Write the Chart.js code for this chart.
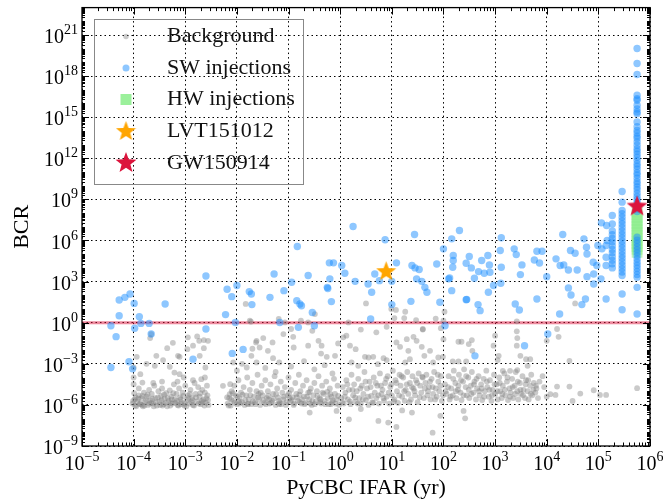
<!DOCTYPE html>
<html>
<head>
<meta charset="utf-8">
<script src="https://cdn.jsdelivr.net/npm/chart.js@4.4.1/dist/chart.umd.min.js"></script>
<style>
  body { margin: 0; background: #fff; }
  canvas { display: block; }
</style>
</head>
<body>
<canvas id="myChart" width="663" height="500"></canvas>
<script>
// values, stored as [log10 IFAR (yr), log10 BCR]
const seriesNames = ['Background', 'SW injections', 'HW injections', 'LVT151012', 'GW150914'];
const xTickExps = [-5, -4, -3, -2, -1, 0, 1, 2, 3, 4, 5, 6];
const yTickExps = [-9, -6, -3, 0, 3, 6, 9, 12, 15, 18, 21];

const bgLog = [
  [-3.94,-2.49],[-3.68,-1.12],[-3.66,-0.83],[-3.87,-3.76],[-3.83,-4.37],[-3.56,-2.42],[-3.59,-3.15],[-3.43,-2.73],
  [-3.35,-1.86],[-3.24,-1.47],[-3.30,-3.22],[-3.14,-2.42],[-3.11,-2.49],[-3.21,-3.64],[-3.11,-3.76],[-3.03,-4.0],
  [-2.95,-1.07],[-2.96,-1.93],[-2.85,-1.68],[-2.77,-1.0],[-2.73,-1.32],[-2.64,-1.27],[-2.56,-1.32],[-2.64,-1.86],
  [-2.72,-2.42],[-2.61,-3.27],[-2.62,-4.0],[-2.69,-4.12],[-4.0,-3.27],[-4.0,-4.0],[-4.0,-4.49],[-3.75,-3.0],
  [-4.02,-5.9],[-3.98,-5.6],[-3.97,-6.05],[-3.93,-5.75],[-3.9,-5.3],[-3.88,-5.95],[-3.85,-5.5],[-3.82,-6.1],
  [-3.8,-5.1],[-3.78,-5.8],[-3.75,-5.4],[-3.72,-6.0],[-3.7,-4.9],[-3.68,-5.65],[-3.65,-5.2],[-3.62,-5.9],
  [-3.6,-4.6],[-3.58,-5.5],[-3.55,-6.05],[-3.52,-5.0],[-3.5,-5.75],[-3.47,-5.35],[-3.45,-4.8],[-3.42,-5.95],
  [-3.4,-5.55],[-3.37,-5.15],[-3.35,-6.1],[-3.32,-5.7],[-3.3,-4.95],[-3.27,-5.4],[-3.25,-5.9],[-3.22,-4.5],
  [-3.2,-5.6],[-3.17,-5.2],[-3.15,-6.0],[-3.12,-4.8],[-3.1,-5.45],[-3.07,-5.8],[-3.05,-5.1],[-3.02,-6.05],
  [-3.0,-4.6],[-2.97,-5.65],[-2.95,-5.3],[-2.92,-5.9],[-2.9,-4.9],[-2.87,-5.5],[-2.85,-6.0],[-2.82,-4.4],
  [-2.8,-5.2],[-2.77,-5.75],[-2.75,-4.7],[-2.72,-5.4],[-2.7,-5.95],[-2.67,-4.9],[-2.65,-5.6],[-2.62,-5.1],
  [-2.6,-5.85],[-2.57,-5.3],[-2.55,-6.0],[-2.58,-4.6],[-3.62,-4.4],[-3.9,-4.8],[-3.45,-4.3],[-3.15,-4.3],
  [-2.85,-4.2],[-3.96,-5.45],[-3.84,-6.0],[-3.66,-5.85],[-3.44,-6.05],[-3.28,-5.85],[-3.08,-5.95],[-2.88,-5.8],
  [-2.68,-5.7],[-2.27,-4.61],
  [-4.01,-5.7],[-3.99,-5.15],[-3.95,-6.1],[-3.91,-5.55],[-3.87,-5.9],[-3.83,-5.35],[-3.79,-6.05],[-3.76,-5.65],
  [-3.73,-5.25],[-3.69,-5.9],[-3.64,-5.55],[-3.61,-6.1],[-3.57,-5.8],[-3.53,-5.45],[-3.49,-6.0],[-3.46,-5.65],
  [-3.41,-5.25],[-3.38,-5.85],[-3.34,-5.5],[-3.29,-6.05],[-3.26,-5.6],[-3.23,-5.15],[-3.19,-5.85],[-3.16,-5.7],
  [-3.13,-6.05],[-3.09,-5.6],[-3.04,-5.35],[-3.01,-5.9],[-2.98,-6.1],[-2.94,-5.5],[-2.91,-5.2],[-2.86,-5.65],
  [-2.83,-6.05],[-2.79,-5.45],[-2.74,-5.9],[-2.71,-5.15],[-2.66,-5.8],[-2.63,-6.05],[-2.59,-5.5],[-2.56,-5.65],
  [-1.83,1.37],[-1.75,0.15],[-1.62,-1.32],[-1.81,-3.27],[-2.14,-5.22],[-2.13,-4.49],[-2.07,-2.9],[-0.49,0.63],
  [-0.76,0.15],[-1.07,0.02],[-0.54,-0.59],[0.12,-0.95],[0.06,-1.07],[-0.91,-1.03],[-1.49,-1.12],[-1.63,-1.44],
  [-1.31,-1.44],[-1.10,-0.83],[-0.62,-1.68],[-0.90,-1.81],[-0.42,-1.32],[-0.36,-1.68],[-0.37,-2.25],[-0.26,-2.49],
  [-0.10,-2.42],[-0.04,-1.51],[-1.56,-1.81],[-1.40,-2.05],[-1.30,-2.59],[-1.18,-2.9],[-1.72,-2.42],[-1.62,-2.9],
  [-2.0,-3.5],[-1.9,-3.0],[-1.45,-3.3],[-1.25,-3.6],[-0.95,-3.2],[-0.7,-2.8],[-0.5,-3.4],[-0.3,-3.1],
  [-0.15,-3.7],[-1.7,-1.9],[-1.19,0.27],[-0.95,-0.46],[-0.62,0.02],[-1.73,0.07],
  [-2.18,-5.9],[-2.15,-5.5],[-2.12,-6.05],[-2.1,-5.0],[-2.07,-5.7],[-2.05,-4.6],[-2.02,-5.3],[-2.0,-5.95],
  [-1.97,-4.2],[-1.95,-5.5],[-1.92,-5.1],[-1.9,-5.8],[-1.87,-4.7],[-1.85,-6.0],[-1.82,-5.3],[-1.8,-4.0],
  [-1.77,-5.6],[-1.75,-4.9],[-1.72,-5.95],[-1.7,-4.4],[-1.67,-5.4],[-1.65,-5.8],[-1.62,-5.0],[-1.6,-3.8],
  [-1.57,-5.6],[-1.55,-6.0],[-1.52,-4.6],[-1.5,-5.3],[-1.47,-5.85],[-1.45,-4.2],[-1.42,-5.5],[-1.4,-5.0],
  [-1.37,-5.9],[-1.35,-4.5],[-1.32,-5.7],[-1.3,-5.2],[-1.27,-3.9],[-1.25,-6.0],[-1.22,-4.8],[-1.2,-5.45],
  [-1.17,-5.85],[-1.15,-4.3],[-1.12,-5.1],[-1.1,-5.6],[-1.07,-4.7],[-1.05,-6.0],[-1.02,-5.3],[-1.0,-4.0],
  [-0.97,-5.75],[-0.95,-4.9],[-0.92,-5.45],[-0.9,-6.0],[-0.87,-4.4],[-0.85,-5.2],[-0.82,-5.7],[-0.8,-3.8],
  [-0.77,-5.0],[-0.75,-5.9],[-0.72,-4.6],[-0.7,-5.4],[-0.67,-5.85],[-0.65,-4.2],[-0.62,-5.1],[-0.6,-5.6],
  [-0.57,-4.8],[-0.55,-6.0],[-0.52,-5.3],[-0.5,-4.4],[-0.47,-5.75],[-0.45,-5.0],[-0.42,-3.9],[-0.4,-5.5],
  [-0.37,-5.9],[-0.35,-4.6],[-0.32,-5.2],[-0.3,-5.7],[-0.27,-4.3],[-0.25,-5.05],[-0.22,-5.95],[-0.2,-4.8],
  [-0.17,-5.4],[-0.15,-5.8],[-0.12,-4.1],[-0.1,-5.2],[-0.07,-5.6],[-0.05,-4.6],[-0.02,-6.0],[-0.59,-6.56],
  [-0.07,-6.44],[-1.96,-5.75],[-1.78,-5.9],[-1.58,-5.2],[-1.38,-5.6],[-1.18,-5.95],[-0.98,-5.5],[-0.78,-5.8],
  [-0.58,-5.9],[-0.38,-5.6],[-0.18,-5.95],
  [-2.19,-5.45],[-2.16,-6.05],[-2.11,-5.6],[-2.08,-5.15],[-2.04,-5.85],[-1.99,-5.4],[-1.94,-5.9],[-1.89,-5.25],
  [-1.84,-5.65],[-1.79,-5.95],[-1.74,-5.3],[-1.69,-5.75],[-1.64,-5.95],[-1.59,-5.45],[-1.54,-5.1],[-1.49,-5.65],
  [-1.44,-5.95],[-1.39,-5.35],[-1.34,-5.85],[-1.29,-5.55],[-1.24,-5.2],[-1.19,-5.7],[-1.14,-5.95],[-1.09,-5.4],
  [-1.04,-5.8],[-0.99,-5.15],[-0.94,-5.65],[-0.89,-5.9],[-0.84,-5.45],[-0.79,-5.25],[-0.74,-5.6],[-0.69,-5.95],
  [-0.64,-5.4],[-0.59,-5.05],[-0.54,-5.7],[-0.49,-5.95],[-0.44,-5.35],[-0.39,-5.8],[-0.34,-5.1],[-0.29,-5.95],
  [-0.24,-5.5],[-0.19,-5.2],[-0.14,-5.65],[-0.09,-5.9],[-0.04,-5.35],
  [0.50,1.41],[1.08,0.93],[1.26,0.80],[1.24,0.34],[1.05,0.34],[1.47,0.19],[0.19,-1.68],[0.30,-1.93],
  [0.48,-2.49],[0.55,-2.54],[0.64,-2.49],[0.84,-2.59],[0.90,-2.73],[0.73,-3.03],[0.35,-3.15],[0.22,-2.90],
  [1.09,-1.44],[1.16,-1.76],[1.29,-1.2],[1.42,-1.03],[1.48,-1.32],[1.58,-1.76],[1.63,-2.42],[1.74,-2.05],
  [1.32,-2.05],[1.35,-2.66],[1.26,-2.9],[1.80,-2.9],[1.90,-2.54],[0.7,-0.7],[0.9,-0.3],[0.4,-0.5],
  [1.6,-0.5],[1.85,0.3],[1.95,-0.4],[0.99,1.0],[1.6,-0.46],[0.16,0.02],
  [0.17,-7.05],[0.74,-7.17],[0.93,-7.29],[1.09,-7.61],[1.39,-6.56],[1.79,-8.03],[1.94,-6.8],[0.4,-6.3],[1.2,-6.4],
  [0.02,-5.5],[0.05,-4.7],[0.07,-5.9],[0.1,-5.1],[0.12,-4.2],[0.15,-5.6],[0.17,-4.9],[0.2,-5.95],
  [0.22,-3.8],[0.25,-5.3],[0.27,-4.5],[0.3,-5.75],[0.32,-5.0],[0.35,-4.1],[0.37,-5.5],[0.4,-5.9],
  [0.42,-4.6],[0.45,-5.2],[0.47,-3.6],[0.5,-5.65],[0.52,-4.8],[0.55,-6.0],[0.57,-4.3],[0.6,-5.35],
  [0.62,-5.8],[0.65,-4.0],[0.67,-5.1],[0.7,-5.5],[0.72,-4.6],[0.75,-5.9],[0.77,-3.7],[0.8,-5.2],
  [0.82,-4.9],[0.85,-5.7],[0.87,-4.4],[0.9,-5.4],[0.92,-3.9],[0.95,-5.9],[0.97,-4.7],[1.0,-5.3],
  [1.02,-3.5],[1.05,-5.6],[1.07,-4.2],[1.1,-5.0],[1.12,-5.85],[1.15,-3.8],[1.17,-4.6],[1.2,-5.4],
  [1.22,-4.0],[1.25,-5.7],[1.27,-4.9],[1.3,-3.6],[1.32,-5.2],[1.35,-4.4],[1.37,-5.6],[1.4,-3.9],
  [1.42,-4.8],[1.45,-5.3],[1.47,-4.2],[1.5,-5.8],[1.52,-3.7],[1.55,-4.6],[1.57,-5.1],[1.6,-4.0],
  [1.62,-5.5],[1.65,-4.4],[1.67,-3.8],[1.7,-5.0],[1.72,-4.7],[1.75,-5.6],[1.77,-4.1],[1.8,-5.2],
  [1.82,-3.6],[1.85,-4.8],[1.87,-5.4],[1.9,-4.3],[1.92,-5.0],[1.95,-3.9],[1.97,-5.7],
  [0.04,-5.8],[0.09,-5.4],[0.14,-4.5],[0.19,-5.75],[0.24,-4.9],[0.29,-5.45],[0.34,-5.9],[0.39,-4.8],
  [0.44,-5.6],[0.49,-4.3],[0.54,-5.4],[0.59,-4.7],[0.64,-5.85],[0.69,-4.4],[0.74,-5.3],[0.79,-4.6],
  [0.84,-5.5],[0.89,-4.1],[0.94,-5.1],[0.99,-4.5],[1.04,-5.75],[1.09,-4.4],[1.14,-5.3],[1.19,-3.9],
  [1.24,-5.0],[1.29,-4.5],[1.34,-5.8],[1.39,-4.7],[1.44,-5.0],[1.49,-4.4],[1.54,-5.45],[1.59,-3.95],
  [1.64,-4.8],[1.69,-5.3],[1.74,-4.3],[1.79,-4.7],[1.84,-5.6],[1.89,-3.8],[1.94,-4.6],[1.99,-5.3],
  [2.0,-1.20],[1.99,-2.49],[2.29,-1.39],[2.35,-1.39],[2.49,-1.56],[2.55,-1.27],[2.56,-2.05],[2.18,-2.83],
  [2.29,-2.83],[2.44,-2.83],[3.0,-0.95],[2.97,-1.68],[3.07,-2.42],[3.05,-2.73],[3.15,-3.51],[3.29,-3.51],
  [3.42,0.10],[3.42,-0.63],[3.43,-1.12],[3.42,-1.68],[3.49,-2.42],[3.60,-2.66],[3.68,-2.66],[3.63,-3.15],
  [3.43,-3.46],[2.02,0.80],[2.0,0.15],[2.39,-6.44],[2.42,-6.98],
  [2.03,-4.5],[2.06,-5.2],[2.1,-3.9],[2.12,-5.6],[2.15,-4.8],[2.18,-5.3],[2.2,-3.5],[2.23,-4.4],
  [2.25,-5.5],[2.28,-4.9],[2.3,-3.8],[2.33,-5.1],[2.35,-5.65],[2.38,-4.3],[2.4,-3.4],[2.43,-4.7],
  [2.45,-5.3],[2.48,-4.0],[2.5,-5.5],[2.53,-4.6],[2.55,-3.6],[2.58,-5.1],[2.6,-4.3],[2.63,-5.6],
  [2.65,-4.8],[2.68,-3.9],[2.7,-5.3],[2.73,-4.5],[2.75,-5.65],[2.78,-4.1],[2.8,-5.0],[2.83,-3.5],
  [2.85,-4.7],[2.88,-5.4],[2.9,-4.2],[2.93,-5.7],[2.95,-4.9],[2.98,-3.8],[3.0,-5.2],[3.03,-4.5],
  [3.05,-5.6],[3.08,-4.0],[3.1,-5.0],[3.13,-5.5],[3.15,-4.6],[3.18,-3.7],[3.2,-5.3],[3.23,-4.3],
  [3.25,-5.65],[3.28,-4.8],[3.3,-5.1],[3.33,-4.1],[3.35,-5.5],[3.38,-4.6],[3.4,-3.6],[3.43,-5.0],
  [3.45,-5.6],[3.48,-4.4],[3.5,-5.2],[3.53,-3.9],[3.55,-4.9],[3.58,-5.5],[3.6,-4.2],[3.63,-5.0],
  [3.65,-5.6],[3.68,-4.6],[3.7,-3.8],[3.72,-5.3],[3.75,-4.4],[3.78,-5.1],[3.8,-4.8],[3.83,-5.5],[3.86,-4.3],
  [2.04,-5.0],[2.09,-4.7],[2.14,-5.4],[2.19,-4.1],[2.24,-5.0],[2.29,-4.6],[2.34,-4.2],[2.39,-5.3],
  [2.44,-3.9],[2.49,-4.9],[2.54,-5.2],[2.59,-4.5],[2.64,-4.1],[2.69,-5.0],[2.74,-4.8],[2.79,-5.4],
  [2.84,-4.3],[2.89,-4.9],[2.94,-5.3],[2.99,-4.5],[3.04,-5.0],[3.09,-4.4],[3.14,-5.2],[3.19,-4.9],
  [3.24,-4.0],[3.29,-5.4],[3.34,-4.7],[3.39,-5.2],[3.44,-4.3],[3.49,-4.9],[3.54,-5.3],[3.59,-4.5],
  [3.64,-4.2],[3.69,-5.2],[3.74,-4.9],[3.79,-4.6],
  [4.0,-1.32],[4.20,-0.46],[4.23,-1.03],[4.55,1.41],[4.44,-2.78],[4.20,-4.66],[4.44,-4.66],[4.65,-5.17],
  [4.91,-4.93],[5.03,-5.27],[5.15,-5.27],[5.75,-4.78],[4.50,-5.71],[4.07,-5.22],[4.17,-5.27],[3.95,-4.7],
  [4.0,-5.4],[3.92,-3.9]
];

const swLog = [
  [-4.44,-0.22],[-4.44,-3.27],[-4.34,-1.02],[-4.28,1.66],[-4.28,0.51],[-4.17,1.85],[-4.09,-2.85],[-4.07,2.10],
  [-4.02,-3.37],[-3.99,1.41],[-3.98,-0.41],[-3.89,0.44],[-3.86,-0.05],[-3.70,-0.05],[-3.66,-0.83],[-3.39,1.37],
  [-2.85,-2.66],[-2.60,3.41],[-2.60,-0.46],[-2.22,0.59],[-2.19,2.44],[-2.10,1.90],[-2.09,-2.24],[-2.03,0.02],
  [-2.00,2.71],[-1.88,-1.95],[-1.76,2.27],[-1.72,2.10],[-1.71,1.32],[-1.36,1.85],[-1.28,3.56],[-1.17,0.02],
  [-1.09,2.34],[-0.94,2.95],[-0.84,1.61],[-0.83,5.56],[-0.81,-0.34],[-0.78,1.37],[-0.75,1.24],[-0.62,3.44],
  [-0.54,0.75],[-0.50,-0.22],[-0.25,2.58],[-0.24,2.5],[-0.21,4.37],[-0.17,1.54],[-0.13,4.37],[0.03,4.17],
  [-0.20,3.2],[0.09,3.61],[0.25,7.02],[0.29,3.02],[0.54,2.83],[0.61,2.22],[0.59,0.27],[0.67,3.56],
  [0.76,3.07],[0.87,6.05],[1.0,3.02],[1.0,1.32],[1.09,4.37],[1.44,6.44],[1.39,4.17],[1.45,4.0],
  [1.53,3.88],[1.48,3.2],[1.58,3.02],[1.64,2.58],[1.68,2.22],[1.37,1.56],[1.87,4.29],[2.0,5.39],
  [1.93,1.49],[2.03,-0.22],[2.10,3.2],[2.31,6.73],[2.16,6.12],[2.19,4.90],[2.19,4.54],[2.18,4.05],
  [2.12,3.27],[2.16,2.34],[2.44,4.34],[2.50,4.83],[2.54,4.0],[2.74,4.54],[2.68,3.73],[2.79,3.61],
  [2.89,4.22],[2.90,3.68],[2.86,4.90],[2.60,3.24],[2.87,2.22],[3.12,6.2],[3.10,5.27],[3.12,4.05],
  [3.11,2.88],[2.97,2.71],[2.44,1.68],[2.45,1.70],[2.67,1.32],[2.71,0.88],[3.37,5.39],[3.41,4.97],
  [3.52,4.22],[3.49,3.51],[3.39,1.37],[3.47,0.93],[3.76,4.58],[3.81,5.22],[3.91,5.22],[3.86,4.36],
  [3.81,1.73],[4.0,3.36],[4.31,6.44],[4.18,4.66],[4.26,4.17],[4.33,4.22],[4.42,3.85],[4.46,5.27],
  [4.55,5.07],[4.59,3.85],[4.42,2.54],[4.47,2.02],[4.68,1.32],[4.75,1.73],[4.25,0.63],[4.72,6.12],
  [4.77,5.51],[4.78,5.02],[4.78,3.36],[4.91,3.56],[4.91,2.83],[4.90,4.41],[4.97,4.17],[4.99,5.63],
  [5.05,3.2],[5.07,5.39],[5.15,5.63],[5.15,4.78],[5.15,4.17],[5.15,1.73],[5.17,6.0],[5.06,7.29],
  [5.16,7.09],[3.57,-1.68],[4.02,-0.83],[2.61,-2.42]
];
// injections found with IFAR at the top of the background (vertical stacks)
const swSideIfarLog = 5.27;
const swSideBcrLog = [7.82, 7.21, 6.7, 6.42, 6.15, 5.9, 5.62, 5.35, 5.1, 4.82, 4.55, 4.3, 4.0];
const swMidIfarLog = 5.46;
const swMidBcrLog = [9.58, 8.8, 8.19, 7.95, 7.7, 7.45, 7.2, 6.95, 6.7, 6.45, 6.2, 5.95, 5.7, 5.45, 5.2,
  4.95, 4.7, 4.45, 4.2, 3.95, 3.7, 3.45, 2.10, 0.95];
const swCapIfarLog = 5.75;
const swCapBcrLog = [20.02, 18.92, 18.12, 16.6, 16.35, 16.24, 15.87, 15.6, 15.38, 15.26, 14.65, 14.3, 14.04,
  13.85, 13.62, 13.47, 13.2, 12.95, 12.7, 12.52, 12.3, 12.08, 11.85, 11.6, 11.42, 11.2, 10.95, 10.78,
  10.55, 10.3, 10.12, 9.9, 9.7, 9.45, 9.22, 9.0, 8.78, 8.55, 8.3, 8.12, 6.25, 6.02, 5.8, 5.55, 5.32,
  5.1, 4.88, 4.65, 4.42, 4.2, 3.98, 3.75, 3.52, 3.31, 2.58, 0.63];

const hwIfarLog = 5.75;
const hwBcrLog = [5.14, 5.35, 5.56, 5.77, 5.98, 6.19, 6.4, 6.61, 6.82, 7.03, 7.24, 7.45, 7.66, 7.87, 8.07];

const lvtLog = [0.89, 3.8];
const gwLog = [5.75, 8.56];

const serif = "'Liberation Serif', 'DejaVu Serif', serif";
const pts = arr => arr.map(([lx, ly]) => ({ x: 10 ** lx, y: 10 ** ly }));
const stack = (lx, ys) => ys.map(ly => ({ x: 10 ** lx, y: 10 ** ly }));

function makeStar(color, size) {
  const c = document.createElement('canvas');
  c.width = size; c.height = size;
  const g = c.getContext('2d');
  const r = size / 2, ri = r * 0.42, cy = r + size * 0.05;
  g.beginPath();
  for (let i = 0; i < 10; i++) {
    const rad = i % 2 ? ri : r;
    const a = -Math.PI / 2 + i * Math.PI / 5;
    g.lineTo(r + rad * Math.cos(a), cy + rad * Math.sin(a));
  }
  g.closePath();
  g.fillStyle = color;
  g.fill();
  return c;
}
const orangeStar = makeStar('#FFA500', 21);
const redStar = makeStar('#DC143C', 22);

const colors = {
  bg: 'rgba(128,128,128,0.42)',
  sw: 'rgba(30,144,255,0.5)',
  hw: 'rgba(144,238,144,0.6)',
  line: 'rgba(220,20,60,0.5)'
};

function drawPow(ctx, exp, x, y, align) {
  const base = '10', sup = String(exp).replace('-', '\u2212');
  ctx.font = '20px ' + serif;
  const wb = ctx.measureText(base).width;
  ctx.font = '14px ' + serif;
  const ws = ctx.measureText(sup).width;
  const x0 = align === 'right' ? x - wb - ws : x - (wb + ws) / 2;
  ctx.textAlign = 'left';
  ctx.font = '20px ' + serif;
  ctx.fillText(base, x0, y);
  ctx.font = '14px ' + serif;
  ctx.fillText(sup, x0 + wb, y - 9);
}

const framePlugin = {
  id: 'frame',
  afterDraw(chart) {
    const { ctx, chartArea: a, scales: { x, y } } = chart;
    ctx.save();
    ctx.strokeStyle = '#000';
    ctx.fillStyle = '#000';
    ctx.lineWidth = 1;
    ctx.beginPath();
    // x ticks, inward on bottom and top
    for (let k = -5; k <= 6; k++) {
      for (let m = 1; m <= 9; m++) {
        if (k === 6 && m > 1) break;
        const px = Math.round(x.getPixelForValue(m * 10 ** k)) + 0.5;
        const len = m === 1 ? 7 : 3.5;
        ctx.moveTo(px, a.bottom); ctx.lineTo(px, a.bottom - len);
        ctx.moveTo(px, a.top); ctx.lineTo(px, a.top + len);
      }
    }
    // y ticks, inward on left and right
    for (let k = -9; k <= 22; k++) {
      for (let m = 1; m <= 9; m++) {
        const v = m * 10 ** k;
        if (v > 1e23) break;
        const py = Math.round(y.getPixelForValue(v)) + 0.5;
        const len = (m === 1 && (k + 9) % 3 === 0) ? 7 : 3;
        ctx.moveTo(a.left, py); ctx.lineTo(a.left + len, py);
        ctx.moveTo(a.right, py); ctx.lineTo(a.right - len, py);
      }
    }
    ctx.stroke();
    ctx.lineWidth = 1.3;
    ctx.strokeRect(a.left, a.top, a.right - a.left, a.bottom - a.top);

    // tick labels
    ctx.textBaseline = 'alphabetic';
    xTickExps.forEach(e => drawPow(ctx, e, x.getPixelForValue(10 ** e), 470, 'center'));
    yTickExps.forEach(e => drawPow(ctx, e, 78, y.getPixelForValue(10 ** e) + 8, 'right'));

    // axis titles
    ctx.font = '22px ' + serif;
    ctx.textAlign = 'center';
    ctx.fillText('PyCBC IFAR (yr)', (a.left + a.right) / 2, 494);
    ctx.save();
    ctx.translate(28, (a.top + a.bottom) / 2);
    ctx.rotate(-Math.PI / 2);
    ctx.fillText('BCR', 0, 0);
    ctx.restore();

    // legend
    const lx = 94, ly = 19, lw = 209, lh = 165;
    ctx.strokeStyle = '#888';
    ctx.lineWidth = 1;
    ctx.strokeRect(lx + 0.5, ly + 0.5, lw, lh);
    const rowY = [36.5, 68, 99.5, 131.5, 163];
    const mx = 126;
    ctx.fillStyle = colors.bg;
    ctx.beginPath(); ctx.arc(mx, rowY[0], 2.7, 0, Math.PI * 2); ctx.fill();
    ctx.fillStyle = colors.sw;
    ctx.beginPath(); ctx.arc(mx, rowY[1], 3.5, 0, Math.PI * 2); ctx.fill();
    ctx.fillStyle = 'rgba(144,238,144,0.9)';
    ctx.fillRect(mx - 5.5, rowY[2] - 5.5, 11, 11);
    ctx.drawImage(orangeStar, mx - 10.5, rowY[3] - 11.5);
    ctx.drawImage(redStar, mx - 11, rowY[4] - 12);
    ctx.fillStyle = '#111';
    ctx.textAlign = 'left';
    ctx.textBaseline = 'middle';
    ctx.font = '22px ' + serif;
    seriesNames.forEach((n, i) => ctx.fillText(n, 167, rowY[i]));
    ctx.restore();
  }
};

const ctx = document.getElementById('myChart');

new Chart(ctx, {
  type: 'scatter',
  data: {
    datasets: [
      {
        label: seriesNames[4],
        data: pts([gwLog]),
        pointStyle: redStar,
        order: 0
      },
      {
        label: seriesNames[3],
        data: pts([lvtLog]),
        pointStyle: orangeStar,
        order: 0
      },
      {
        label: seriesNames[1],
        data: pts(swLog).concat(stack(swSideIfarLog, swSideBcrLog), stack(swMidIfarLog, swMidBcrLog),
          stack(swCapIfarLog, swCapBcrLog)),
        backgroundColor: colors.sw,
        borderWidth: 0,
        pointRadius: 3.7,
        order: 1
      },
      {
        label: seriesNames[2],
        data: stack(hwIfarLog, hwBcrLog),
        pointStyle: 'rect',
        backgroundColor: colors.hw,
        borderWidth: 0,
        pointRadius: 7.6,
        order: 2
      },
      {
        label: seriesNames[0],
        data: pts(bgLog),
        backgroundColor: colors.bg,
        borderWidth: 0,
        pointRadius: 2.9,
        order: 3
      },
      {
        label: 'BCR = 1',
        data: [{ x: 1e-5, y: 1 }, { x: 1e6, y: 1 }],
        showLine: true,
        borderColor: colors.line,
        borderWidth: 3,
        pointRadius: 0,
        order: 4
      }
    ]
  },
  options: {
    responsive: false,
    animation: false,
    layout: { padding: { top: 7, right: 13, left: 0, bottom: 0 } },
    plugins: {
      legend: { display: false },
      tooltip: { enabled: false }
    },
    scales: {
      x: {
        type: 'logarithmic',
        min: 1e-5,
        max: 1e6,
        afterBuildTicks: s => { s.ticks = xTickExps.map(e => ({ value: 10 ** e })); },
        afterFit: s => { s.height = 54; },
        ticks: { display: false },
        grid: { color: '#000', lineWidth: 1, drawTicks: false },
        border: { display: false, dash: [1.5, 3] }
      },
      y: {
        type: 'logarithmic',
        min: 1e-9,
        max: 1e23,
        afterBuildTicks: s => { s.ticks = yTickExps.map(e => ({ value: 10 ** e })); },
        afterFit: s => { s.width = 82; },
        ticks: { display: false },
        grid: { color: '#000', lineWidth: 1, drawTicks: false },
        border: { display: false, dash: [1.5, 3] }
      }
    }
  },
  plugins: [framePlugin]
});
</script>
</body>
</html>
